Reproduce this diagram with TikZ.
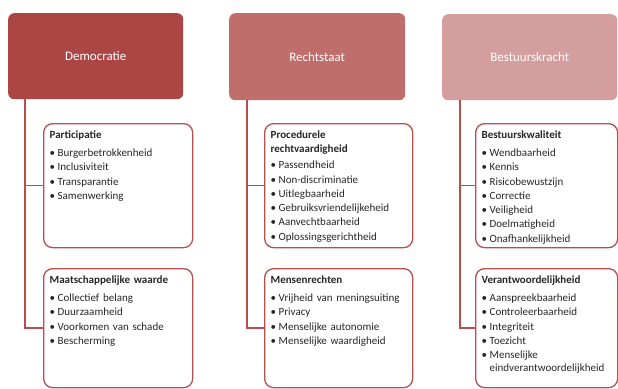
\documentclass[tikz,border=0pt]{standalone}
\usepackage{fontspec}
\setmainfont{Carlito}
\usepackage{xcolor}
\definecolor{demofill}{RGB}{171,70,68}
\definecolor{rechtfill}{RGB}{192,110,108}
\definecolor{bestfill}{RGB}{212,158,159}
\definecolor{boxline}{RGB}{182,78,78}
\newcommand{\itm}{\makebox[8pt][l]{\textbullet}}
\newcommand{\itmcont}{\hspace*{8pt}}

\begin{document}
\begin{tikzpicture}[x=1pt,y=-1pt,
  pillar/.style={rounded corners=6pt, text=white, font=\fontsize{13}{15}\selectfont,
    anchor=north west, inner sep=0pt},
  aspect/.style={draw=boxline, line width=1.3pt, rounded corners=9pt, anchor=north west,
    align=left, inner xsep=6pt, inner ysep=4pt, text height=10.5pt,
    font=\fontsize{11}{14.3}\selectfont, text=black!85},
  link/.style={draw=boxline, line width=1.4pt}]
\useasboundingbox (0,0) rectangle (618,388);
% top row
\node[pillar, fill=demofill, minimum width=175pt, minimum height=86pt] (demo) at (8,13) {Democratie};
\node[pillar, fill=rechtfill, minimum width=176pt, minimum height=87pt] (recht) at (229,13) {Rechtstaat};
\node[pillar, fill=bestfill, minimum width=175pt, minimum height=86pt] (bestuur) at (442,14) {Bestuurskracht};
%
% Democratie
\node[aspect, text width=137pt, text depth=105.5pt] (part) at (43,123)
  {\textbf{Participatie}\\[4pt]
   \itm Burgerbetrokkenheid\\ \itm Inclusiviteit\\ \itm Transparantie\\ \itm Samenwerking};
\node[aspect, text width=137pt, text depth=100.5pt] (maat) at (43,268)
  {\textbf{Maatschappelijke waarde}\\[4pt]
   \itm Collectief belang\\ \itm Duurzaamheid\\ \itm Voorkomen van schade\\ \itm Bescherming};
% Rechtstaat
\node[aspect, text width=136pt, text depth=105.5pt] (proc) at (264,123)
  {\textbf{Procedurele}\\ \textbf{rechtvaardigheid}\\[2pt]
   \itm Passendheid\\ \itm Non-discriminatie\\ \itm Uitlegbaarheid\\
   \itm Gebruiksvriendelijkeheid\\ \itm Aanvechtbaarheid\\ \itm Oplossingsgerichtheid};
\node[aspect, text width=136pt, text depth=100.5pt] (mens) at (264,268)
  {\textbf{Mensenrechten}\\[4pt]
   \itm Vrijheid van meningsuiting\\ \itm Privacy\\ \itm Menselijke autonomie\\
   \itm Menselijke waardigheid};
% Bestuurskracht
\node[aspect, text width=130pt, text depth=105.5pt] (kwal) at (475,123)
  {\textbf{Bestuurskwaliteit}\\[4pt]
   \itm Wendbaarheid\\ \itm Kennis\\ \itm Risicobewustzijn\\ \itm Correctie\\
   \itm Veiligheid\\ \itm Doelmatigheid\\ \itm Onafhankelijkheid};
\node[aspect, text width=130pt, text depth=100.5pt] (verant) at (475,268)
  {\textbf{Verantwoordelijkheid}\\[4pt]
   \itm Aanspreekbaarheid\\ \itm Controleerbaarheid\\ \itm Integriteit\\ \itm Toezicht\\
   \itm Menselijke\\[-1pt] \itmcont eindverantwoordelijkheid};
%
% connectors
\draw[link] ([xshift=17pt]demo.south west) |- (part.west);
\draw[link] ([xshift=17pt]demo.south west) |- (maat.west);
\draw[link] ([xshift=18pt]recht.south west) |- (proc.west);
\draw[link] ([xshift=18pt]recht.south west) |- (mens.west);
\draw[link] ([xshift=18pt]bestuur.south west) |- (kwal.west);
\draw[link] ([xshift=18pt]bestuur.south west) |- (verant.west);
\end{tikzpicture}
\end{document}
